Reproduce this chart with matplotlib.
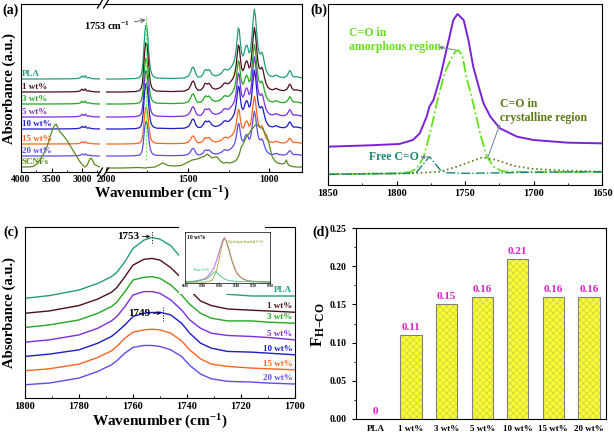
import matplotlib
matplotlib.use('Agg')
import matplotlib.pyplot as plt
from matplotlib.patches import Rectangle
from matplotlib.lines import Line2D
from matplotlib.ticker import MultipleLocator

plt.rcParams['font.family'] = ['Liberation Serif', 'DejaVu Serif']
plt.rcParams['font.weight'] = 'bold'
plt.rcParams['mathtext.fontset'] = 'custom'
plt.rcParams['mathtext.rm'] = 'Liberation Serif:bold'
plt.rcParams['mathtext.it'] = 'Liberation Serif:bold'
plt.rcParams['mathtext.bf'] = 'Liberation Serif:bold'
plt.rcParams['mathtext.default'] = 'rm'
plt.rcParams['hatch.linewidth'] = 0.6

# ---------------- data ----------------
samples = ['PLA', '1 wt%', '3 wt%', '5 wt%', '10 wt%', '15 wt%', '20 wt%']
colors = ['#1f9e78', '#4d0f1a', '#22a822', '#7d2ee0', '#1c1cc8', '#ff6420', '#5b4ef0']
scnf_color = '#5a8a1e'

# (a) FTIR, PLA reference spectrum (height above its own baseline)
a_left_wn = [4000, 3600, 3200, 3080, 3030, 3010, 2997, 2985, 2965, 2946, 2930, 2900, 2880, 2860, 2820, 2700]
pla_left = [0, 0, 0.2, 0.5, 1.2, 2.5, 3.2, 2, 1.8, 3.5, 1.5, 1, 1.5, 0.8, 0.3, 0]
a_right_wn = [2000, 1900, 1820, 1795, 1785, 1778, 1772, 1767, 1762, 1757, 1753, 1749, 1744, 1739, 1734,
              1728, 1720, 1710, 1690, 1600, 1520, 1495, 1482, 1473, 1466, 1459, 1450, 1438, 1420, 1405,
              1395, 1388, 1380, 1370, 1362, 1350, 1330, 1310, 1292, 1280, 1270, 1260, 1250, 1238, 1225,
              1213, 1204, 1196, 1190, 1184, 1177, 1170, 1162, 1154, 1146, 1138, 1131, 1124, 1116, 1108,
              1100, 1092, 1085, 1078, 1070, 1062, 1054, 1046, 1039, 1030, 1020, 1008, 995, 978, 965,
              957, 948, 935, 910, 893, 883, 876, 869, 861, 850, 838, 825, 810, 800]
pla_right = [0, 0, 0.5, 1.5, 4, 9, 20, 34, 46, 53, 54, 51, 42, 30, 19,
             10, 5, 2.5, 1, 0.5, 1, 3, 7, 11, 12, 10, 5, 2, 2, 5,
             9, 9.5, 8.5, 9.5, 8, 4.5, 3, 4, 6, 9, 10, 9, 9, 11, 14,
             19, 28, 42, 51, 49, 36, 26, 23, 26, 32, 34, 31, 26, 28, 40,
             57, 70, 63, 48, 33, 26, 25, 27, 24, 16, 9, 5, 3, 2.5, 3.5,
             4, 3, 2, 1.5, 3, 6, 8.5, 7.5, 4, 2, 2.5, 2, 1.5, 1]
a_offsets = [93, 80, 68, 55, 43, 28, 16]
a_scales = [1.0, 0.92, 0.85, 0.86, 0.84, 0.68, 0.64]

scnf_left_wn = [4000, 3900, 3800, 3740, 3690, 3630, 3575, 3520, 3475, 3445, 3426, 3400, 3360, 3300, 3250,
                3200, 3150, 3090, 3030, 2990, 2950, 2920, 2900, 2880, 2853, 2830, 2800, 2750, 2700]
scnf_left = [5, 5, 5.5, 8, 12, 18, 25, 36, 44, 47, 48, 45, 40, 36, 32,
             27, 22, 16, 10, 7, 5, 6.5, 9, 12, 14, 12, 8, 6, 5]
scnf_right_wn = [2000, 1900, 1800, 1760, 1740, 1700, 1670, 1656, 1640, 1620, 1580, 1540, 1509, 1472, 1440,
                 1411, 1395, 1380, 1365, 1350, 1335, 1319, 1300, 1282, 1260, 1245, 1220, 1202, 1185, 1172,
                 1160, 1141, 1125, 1110, 1095, 1080, 1070, 1061, 1052, 1043, 1030, 1018, 1008, 1000, 990,
                 982, 965, 951, 935, 920, 905, 896, 889, 883, 860, 834, 804]
scnf_right = [4, 4, 4.5, 4, 4.5, 5, 7.5, 9, 8, 6.5, 6, 6.5, 9, 12, 13,
              15, 16, 18, 16, 14, 15, 15, 11, 9, 9.5, 9, 10, 12, 17, 25,
              28, 35, 38, 42, 45, 48, 47, 45, 44, 44, 40, 37, 32, 27, 20,
              15, 11, 9, 8.5, 8, 9, 12, 9, 7, 5.5, 5, 5]

# (b) peak fitting of PLA C=O band
b_total_wn = [1850, 1820, 1798, 1788, 1783, 1778, 1776, 1773, 1768, 1763, 1758.5, 1755.5, 1751, 1747.5,
              1744, 1740, 1736.5, 1731.5, 1724.5, 1712, 1700, 1675, 1650]
b_total = [1.15, 1.19, 1.23, 1.35, 1.55, 2.05, 2.35, 2.55, 3.25, 4.15, 4.95, 5.13, 4.95, 4.35,
           3.55, 2.95, 2.45, 2.05, 1.70, 1.45, 1.35, 1.27, 1.25]
b_amorph_wn = [1850, 1800, 1790, 1785, 1780, 1775, 1770, 1765, 1760, 1757, 1755, 1752, 1749, 1744,
               1739, 1734, 1729, 1724, 1720, 1700, 1650]
b_amorph = [0.32, 0.35, 0.39, 0.50, 0.85, 1.65, 2.55, 3.35, 3.80, 4.00, 4.05, 3.90, 3.25, 2.45,
            1.55, 0.85, 0.55, 0.43, 0.40, 0.39, 0.39]
b_free_wn = [1850, 1790, 1785, 1780, 1776, 1772, 1768, 1763, 1750, 1700, 1650]
b_free = [0.32, 0.35, 0.40, 0.65, 0.85, 0.65, 0.45, 0.37, 0.35, 0.38, 0.40]
b_cryst_wn = [1850, 1790, 1768, 1756, 1746, 1737, 1727, 1715, 1700, 1676, 1650]
b_cryst = [0.33, 0.35, 0.40, 0.55, 0.70, 0.83, 0.75, 0.58, 0.48, 0.43, 0.40]

# (c) C=O band of all samples (stacked)
c_wn = [1800, 1791, 1780, 1773, 1768, 1766, 1763, 1760, 1756, 1753, 1750, 1746, 1742, 1739, 1735,
        1731, 1725, 1716, 1710, 1700]
c_curves = [
    [100, 102.7, 108.3, 115, 121.7, 126, 136.7, 150, 158.3, 161, 159.3, 152.7, 140, 128.3, 118.3,
     110, 104, 102.3, 102.3, 102.3],
    [85, 87.3, 92.7, 99.3, 106, 110.7, 121.7, 133.3, 139, 140, 138.3, 130.7, 120, 108.3, 97.3,
     92.7, 89.3, 88, 87.3, 86],
    [70.7, 73.3, 78.3, 85, 91.7, 96, 106.7, 118.3, 121, 121.7, 120, 113.3, 103.3, 94, 85,
     80, 77.3, 77.3, 76, 75],
    [56, 58.3, 63.3, 70, 77.3, 81.7, 91.7, 103.3, 106.7, 106.7, 105, 98.3, 88.3, 78.3, 70,
     65, 62.7, 61.7, 60.7, 58.3],
    [41.7, 44, 48.3, 55, 61.7, 66, 73.3, 81.7, 85, 85.7, 86, 83.3, 75, 65, 55,
     50, 46.7, 46, 45, 43.3],
    [27.3, 29.3, 34, 40.7, 47.3, 51.7, 60, 66, 68.3, 69, 68.3, 65, 57.3, 48.3, 39.3,
     34, 31.7, 30, 29.3, 28.3],
    [13.3, 15, 20, 26.7, 33.3, 37.3, 45, 50.7, 52.7, 52.7, 51.7, 48.3, 41.7, 32.7, 24,
     19.3, 16.7, 16, 15, 14],
]

# (c) inset: fitting of 10 wt% sample
ins_wn = [1800, 1790, 1780, 1775, 1770, 1766, 1762, 1758, 1755, 1753.5, 1751, 1748, 1745, 1740,
          1735, 1728, 1720, 1700]
ins_total = [3, 5, 10, 15, 30, 45, 75, 110, 133, 138, 125, 100, 70, 35, 18, 8, 5, 3]
ins_hb_wn = [1800, 1775, 1768, 1763, 1760, 1757, 1754, 1752, 1749, 1746, 1742, 1738, 1732, 1725, 1715, 1700]
ins_hb = [2, 3, 8, 35, 70, 110, 135, 130, 105, 78, 45, 25, 12, 6, 4, 3]
ins_free_wn = [1800, 1785, 1775, 1770, 1766, 1764, 1761, 1757, 1752, 1745, 1730, 1700]
ins_free = [3, 6, 12, 22, 32, 35, 28, 18, 10, 6, 4, 3]

# (d) fraction of hydrogen-bonded C=O
d_labels = ['PLA', '1 wt%', '3 wt%', '5 wt%', '10 wt%', '15 wt%', '20 wt%']
d_values = [0, 0.11, 0.15, 0.16, 0.21, 0.16, 0.16]

# ---------------- layout helpers ----------------
W, H = 614, 432


def box(l, t, r, b):
    return [l / W, 1 - b / H, (r - l) / W, (b - t) / H]


def fx(x):
    return x / W


def fy(y):
    return 1 - y / H


fig = plt.figure(figsize=(6.14, 4.32), dpi=100)

# ---------------- (a) ----------------
ax_l = fig.add_axes(box(21, 4, 100, 172))
ax_r = fig.add_axes(box(106, 4, 302, 172))
for i, name in enumerate(samples):
    ax_l.plot(a_left_wn, [a_offsets[i] + a_scales[i] * v for v in pla_left], color=colors[i], lw=0.9)
    ax_r.plot(a_right_wn, [a_offsets[i] + a_scales[i] * v for v in pla_right], color=colors[i], lw=0.9)
    ax_l.text(3990, a_offsets[i] + 1.2, name, color=colors[i], fontsize=6.5, va='bottom', ha='left')
ax_l.plot(scnf_left_wn, scnf_left, color=scnf_color, lw=0.9)
ax_r.plot(scnf_right_wn, scnf_right, color=scnf_color, lw=0.9)
ax_l.text(3990, 5.5, 'SCNFs', color=scnf_color, fontsize=6.5, va='bottom', ha='left')
ax_r.plot([1753, 1753], [12, 155], color='#66ff33', lw=0.8, ls=(0, (2, 1.5)))

ax_l.set_xlim(4000, 2705)
ax_r.set_xlim(2000, 800)
for ax in (ax_l, ax_r):
    ax.set_ylim(0, 168)
    ax.set_yticks([])
    ax.xaxis.set_minor_locator(MultipleLocator(250))
    ax.tick_params(axis='x', which='both', direction='in', labelsize=7, pad=2)
    ax.tick_params(axis='x', which='major', length=3)
    ax.tick_params(axis='x', which='minor', length=1.5)
ax_l.set_xticks([4000, 3500, 3000])
ax_r.set_xticks([2000, 1500, 1000])
ax_l.spines['right'].set_visible(False)
ax_r.spines['left'].set_visible(False)

# axis-break marks
for yb in (4, 172):
    for xb in (100, 106):
        fig.add_artist(Line2D([fx(xb - 2.5), fx(xb + 2.5)], [fy(yb + 4), fy(yb - 4)],
                              color='k', lw=0.9, transform=fig.transFigure))

ax_r.annotate('1753 cm$^{-1}$', xy=(1758, 152), xytext=(fx(107), fy(26)),
              textcoords='figure fraction', ha='center', va='center', fontsize=7.5,
              arrowprops=dict(arrowstyle='->', color='#555555', lw=0.6, shrinkA=1, shrinkB=0),
              annotation_clip=False)
fig.text(fx(162), fy(194), 'Wavenumber (cm$^{-1}$)', ha='center', va='center', fontsize=11)
fig.text(fx(9), fy(88), 'Absorbance (a.u.)', ha='center', va='center', rotation=90, fontsize=10.5)
fig.text(fx(2), fy(10), '(a)', ha='left', va='center', fontsize=10)

# ---------------- (b) ----------------
ax_b = fig.add_axes(box(328, 4, 602, 185))
ax_b.plot(b_total_wn, b_total, color='#7b22d8', lw=1.4)
ax_b.plot(b_amorph_wn, b_amorph, color='#66e01a', lw=1.3, ls='-.')
ax_b.plot(b_cryst_wn, b_cryst, color='#5a7a1a', lw=1.2, ls=':')
ax_b.plot(b_free_wn, b_free, color='#1a8a6a', lw=1.0, ls='-.')
ax_b.set_xlim(1850, 1650)
ax_b.set_ylim(0, 5.43)
ax_b.set_yticks([])
ax_b.set_xticks([1850, 1800, 1750, 1700, 1650])
ax_b.xaxis.set_minor_locator(MultipleLocator(25))
ax_b.tick_params(axis='x', which='both', direction='in', labelsize=7.5, pad=3)
ax_b.tick_params(axis='x', which='major', length=3)
ax_b.tick_params(axis='x', which='minor', length=1.5)

arrow_kw = dict(arrowstyle='-|>', color='#7080a0', lw=0.7, mutation_scale=5, shrinkA=0, shrinkB=0)
ax_b.text(1834.7, 4.36, 'C=O in\namorphous region', color='#66e01a', fontsize=8.5,
          ha='left', va='center', linespacing=1.2)
ax_b.annotate('', xy=(1769, 4.14), xytext=(1757, 4.05), arrowprops=arrow_kw)
ax_b.text(1724.4, 2.22, 'C=O in\ncrystalline region', color='#5a7a1a', fontsize=8.5,
          ha='left', va='center', linespacing=1.2)
ax_b.annotate('', xy=(1724.5, 1.83), xytext=(1733, 0.86), arrowprops=arrow_kw)
ax_b.text(1820, 0.84, 'Free C=O', color='#1a8a6a', fontsize=8.5, ha='left', va='center')
ax_b.annotate('', xy=(1782.5, 0.84), xytext=(1776, 0.84), arrowprops=arrow_kw)
fig.text(fx(310), fy(10), '(b)', ha='left', va='center', fontsize=10)

# ---------------- (c) ----------------
ax_c = fig.add_axes(box(25, 227, 295, 398))
for i, name in enumerate(samples):
    ax_c.plot(c_wn, c_curves[i], color=colors[i], lw=1.0)
    ax_c.text(1701, c_curves[i][-1] + 1.8, name, color=colors[i], fontsize=6.5,
              ha='right', va='bottom', zorder=5)
ax_c.add_patch(Rectangle((1711, 104), 32, 70, facecolor='white', edgecolor='none',
                         zorder=3, clip_on=False))
ax_c.set_xlim(1800, 1700)
ax_c.set_ylim(0, 171.5)
ax_c.set_yticks([])
ax_c.set_xticks([1800, 1780, 1760, 1740, 1720, 1700])
ax_c.xaxis.set_minor_locator(MultipleLocator(10))
ax_c.tick_params(axis='x', which='both', direction='in', labelsize=7.5, pad=3)
ax_c.tick_params(axis='x', which='major', length=3)
ax_c.tick_params(axis='x', which='minor', length=1.5)
ax_c.plot([1753, 1753], [155, 167], color='k', lw=0.7, ls=':')
ax_c.plot([1749, 1749], [77, 92], color='k', lw=0.7, ls=':')
small_arrow = dict(arrowstyle='->', color='k', lw=0.6, shrinkA=0, shrinkB=0, mutation_scale=5)
ax_c.annotate('1753', xy=(1753.6, 162), xytext=(1757.5, 162), ha='right', va='center',
              fontsize=8, arrowprops=small_arrow)
ax_c.annotate('1749', xy=(1749.6, 85), xytext=(1753.5, 85), ha='right', va='center',
              fontsize=8, arrowprops=small_arrow)
fig.text(fx(160), fy(422), 'Wavenumber (cm$^{-1}$)', ha='center', va='center', fontsize=11)
fig.text(fx(9), fy(312), 'Absorbance (a.u.)', ha='center', va='center', rotation=90, fontsize=10.5)
fig.text(fx(3), fy(232), '(c)', ha='left', va='center', fontsize=10)

# inset
ax_in = fig.add_axes(box(185, 232, 270, 283))
ax_in.plot(ins_wn, ins_total, color='#d070e0', lw=0.8)
ax_in.plot(ins_hb_wn, ins_hb, color='#9aaa30', lw=0.6)
ax_in.plot(ins_free_wn, ins_free, color='#40c080', lw=0.6)
ax_in.set_xlim(1800, 1700)
ax_in.set_ylim(0, 155)
ax_in.set_yticks([])
ax_in.set_xticks([1800, 1780, 1760, 1740, 1720, 1700])
ax_in.tick_params(axis='x', direction='in', labelsize=2.5, length=1, pad=1, width=0.4)
for s in ax_in.spines.values():
    s.set_linewidth(0.5)
ax_in.text(1798, 145, '10 wt%', fontsize=4, ha='left', va='top')
ax_in.text(1750, 125, 'Hydrogen bonded C=O', color='#9aaa30', fontsize=2.5, ha='left', va='center')
ax_in.text(1790, 40, 'Free C=O', color='#40c080', fontsize=2.5, ha='left', va='center')

# ---------------- (d) ----------------
ax_d = fig.add_axes(box(356, 228, 606, 419))
xpos = list(range(len(d_labels)))
ax_d.bar(xpos, d_values, width=0.6, color='#ffff30', edgecolor='#c8d848', hatch='xxxxx', lw=0)
ax_d.bar(xpos, d_values, width=0.6, fill=False, edgecolor='#808080', lw=0.8)
for xp, v in zip(xpos, d_values):
    ax_d.text(xp, v + 0.004, '0' if v == 0 else f'{v:.2f}', color='#e020c8', fontsize=8,
              ha='center', va='bottom')
ax_d.set_xlim(-0.55, 6.48)
ax_d.set_ylim(0, 0.25)
ax_d.set_xticks(xpos)
ax_d.set_xticklabels(d_labels)
ax_d.set_yticks([0, 0.05, 0.10, 0.15, 0.20, 0.25])
ax_d.set_yticklabels(['0.00', '0.05', '0.10', '0.15', '0.20', '0.25'])
ax_d.yaxis.set_minor_locator(MultipleLocator(0.025))
ax_d.tick_params(axis='x', length=0, labelsize=6.5, pad=4)
ax_d.tick_params(axis='y', which='both', direction='out', labelsize=7)
ax_d.tick_params(axis='y', which='major', length=3)
ax_d.tick_params(axis='y', which='minor', length=1.5)
fig.text(fx(318), fy(325), 'F$_{\\mathrm{H{-}CO}}$', ha='center', va='center', rotation=90, fontsize=12)
fig.text(fx(312), fy(232), '(d)', ha='left', va='center', fontsize=10)

fig.savefig('out.png', dpi=100)
